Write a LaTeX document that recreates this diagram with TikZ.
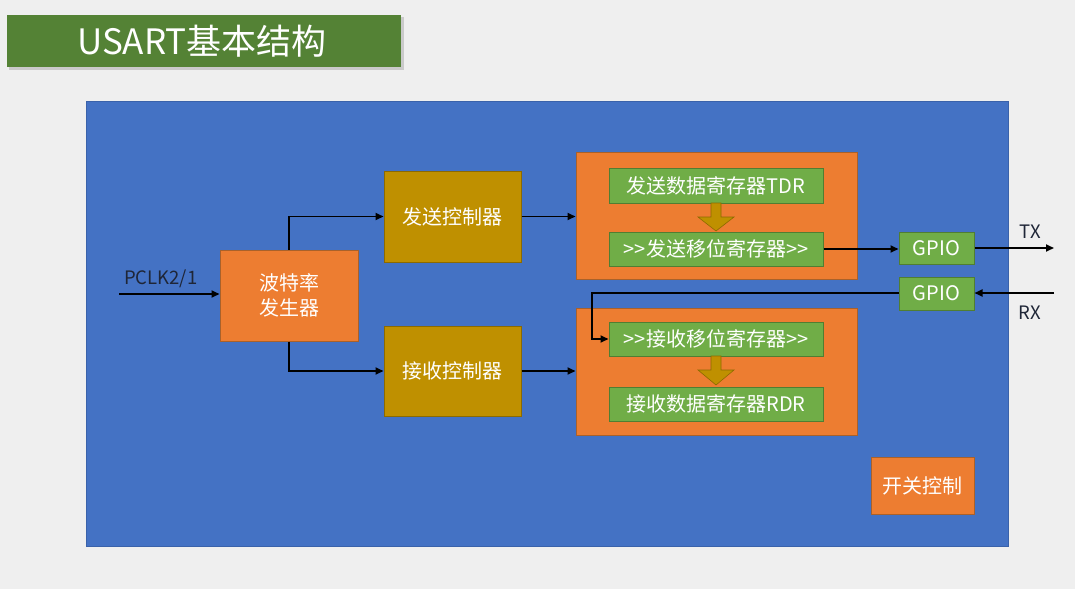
\documentclass[tikz,border=0pt]{standalone}
\usepackage{fontspec}
\setmainfont{Noto Sans CJK SC}
\usetikzlibrary{arrows.meta}
\definecolor{bg}{HTML}{EFEFEF}
\definecolor{titlegreen}{HTML}{548235}
\definecolor{panelblue}{HTML}{4472C4}
\definecolor{panelborder}{HTML}{3A62AA}
\definecolor{orangefill}{HTML}{ED7D31}
\definecolor{orangeborder}{HTML}{A9612A}
\definecolor{greenfill}{HTML}{70AD47}
\definecolor{greenborder}{HTML}{507E32}
\definecolor{goldfill}{HTML}{BF9000}
\definecolor{goldborder}{HTML}{8C6A00}
\definecolor{darktext}{HTML}{1F2637}
\tikzset{
  boxtext/.style={text=white, font=\fontsize{20}{25}\selectfont, align=center, inner sep=0pt},
  obox/.style={boxtext, fill=orangefill, draw=orangeborder, line width=1pt},
  gbox/.style={boxtext, fill=greenfill, draw=greenborder, line width=1pt},
  ybox/.style={boxtext, fill=goldfill, draw=goldborder, line width=1pt},
  bigbox/.style={fill=orangefill, draw=orangeborder, line width=1pt},
  arr/.style={draw=black, line width=1.8pt, -{Triangle[length=8pt,width=7pt]}},
  lbl/.style={text=darktext, font=\fontsize{18.5}{20}\selectfont, inner sep=0pt},
  blockarrow/.style={fill=goldfill, draw=goldborder, line width=0.6pt}
}
\begin{document}
\begin{tikzpicture}[x=1pt,y=-1pt]
\useasboundingbox (0,0) rectangle (1075,589);
\fill[bg] (0,0) rectangle (1075,589);
% title
\fill[black!30, opacity=0.6] (9,17) rectangle (404,70);
\fill[titlegreen] (7,15) rectangle (401,67);
\node[text=white, font=\fontsize{35}{40}\selectfont, inner sep=0pt] (title) at (202,41) {USART基本结构};
% panel
\fill[panelblue] (86,101) rectangle (1008,546);
\draw[panelborder, line width=0.8pt] (86,101) rectangle (1008,546);
% big orange containers
\node[bigbox, minimum width=281pt, minimum height=127pt, inner sep=0pt] (txbox) at (716.5,216) {};
\node[bigbox, minimum width=281pt, minimum height=127pt, inner sep=0pt] (rxbox) at (716.5,371.5) {};
% boxes
\node[obox, minimum width=138pt, minimum height=91pt] (baud) at (289,295.5) {波特率\\发生器};
\node[ybox, minimum width=137pt, minimum height=91pt] (tctrl) at (452.5,216.5) {发送控制器};
\node[ybox, minimum width=137pt, minimum height=90pt] (rctrl) at (452.5,371) {接收控制器};
\node[gbox, minimum width=214pt, minimum height=35pt] (tdr) at (716,185.5) {发送数据寄存器TDR};
\node[gbox, minimum width=214pt, minimum height=34pt] (tsr) at (716,249) {>{}>发送移位寄存器>{}>};
\node[gbox, minimum width=214pt, minimum height=34pt] (rsr) at (716,339) {>{}>接收移位寄存器>{}>};
\node[gbox, minimum width=214pt, minimum height=34pt] (rdr) at (716,404) {接收数据寄存器RDR};
\node[gbox, minimum width=75pt, minimum height=32pt] (gpio1) at (936.5,248) {GPIO};
\node[gbox, minimum width=75pt, minimum height=33pt] (gpio2) at (936.5,293.5) {GPIO};
\node[obox, minimum width=103pt, minimum height=57pt] (sw) at (922.5,485.5) {开关控制};
% block arrows
\filldraw[blockarrow] (711,203) -- (721,203) -- (721,217) -- (734,217) -- (716,231) -- (698,217) -- (711,217) -- cycle;
\filldraw[blockarrow] (711,356) -- (721,356) -- (721,370) -- (734,370) -- (716,385) -- (698,370) -- (711,370) -- cycle;
% labels
\node[lbl, anchor=base west] (pclk) at (124,284) {PCLK2/1};
\node[lbl, anchor=base] (tx) at (1030,238) {TX};
\node[lbl, anchor=base] (rx) at (1030,319) {RX};
% connectors
\coordinate (pclkin) at (119,294);
\coordinate (txout) at (1054,248);
\coordinate (rxin) at (1054,293);
\coordinate (bend) at (592,293);
\draw[arr] (pclkin) -- (pclkin -| baud.west);
\draw[arr] (baud.north) |- (tctrl.west);
\draw[arr] (baud.south) |- (rctrl.west);
\draw[arr] (tctrl.east) -- (tctrl.east -| txbox.west);
\draw[arr] (rctrl.east) -- (rctrl.east -| rxbox.west);
\draw[arr] (tsr.east) -- (tsr.east -| gpio1.west);
\draw[arr] (gpio1.east) -- (txout);
\draw[arr] (rxin) -- (rxin -| gpio2.east);
\draw[arr] (rxin -| gpio2.west) -- (bend) |- (rsr.west);
\end{tikzpicture}
\end{document}
